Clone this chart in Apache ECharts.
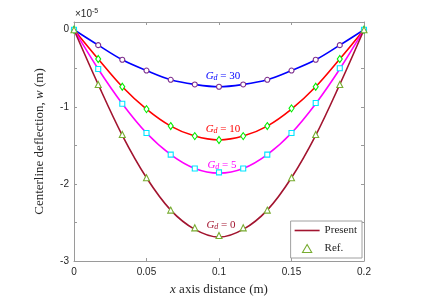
<!DOCTYPE html>
<html>
<head>
<meta charset="utf-8">
<script src="https://cdn.jsdelivr.net/npm/echarts@6/dist/echarts.min.js"></script>
<style>html,body{margin:0;padding:0;background:#fff;}#c{width:425px;height:305px;}</style>
</head>
<body>
<div id="c"></div>
<script>
// x positions (m)
var xPos = [0, 0.0167, 0.0333, 0.05, 0.0667, 0.0833, 0.1, 0.1167, 0.1333, 0.15, 0.1667, 0.1833, 0.2];
// deflection values in units of 1e-5 m
var presentGd0  = [0, -0.71, -1.37, -1.92, -2.34, -2.59, -2.69, -2.59, -2.34, -1.92, -1.37, -0.71, 0];
var presentGd5  = [0, -0.51, -0.96, -1.34, -1.62, -1.80, -1.86, -1.80, -1.62, -1.34, -0.96, -0.51, 0];
var presentGd10 = [0, -0.38, -0.74, -1.03, -1.25, -1.38, -1.43, -1.38, -1.25, -1.03, -0.74, -0.38, 0];
var presentGd30 = [0, -0.20, -0.39, -0.53, -0.65, -0.71, -0.74, -0.71, -0.65, -0.53, -0.39, -0.20, 0];
var refGd0  = [0, -0.71, -1.36, -1.92, -2.34, -2.57, -2.67, -2.57, -2.34, -1.92, -1.36, -0.71, 0];
var refGd5  = [0, -0.51, -0.96, -1.34, -1.62, -1.80, -1.85, -1.80, -1.62, -1.34, -0.95, -0.50, 0];
var refGd10 = [0, -0.38, -0.74, -1.03, -1.25, -1.38, -1.43, -1.38, -1.25, -1.02, -0.74, -0.38, 0];
var refGd30 = [0, -0.20, -0.39, -0.53, -0.65, -0.71, -0.74, -0.71, -0.65, -0.53, -0.39, -0.20, 0];
var xTicks = [0, 0.05, 0.1, 0.15, 0.2];
var yTicks = [-3, -2, -1, 0];

function pts(xs, ys) { return xs.map(function (x, i) { return [x, ys[i]]; }); }

var axisCol = '#9a9a9a';
var txtCol = '#262626';
var serif = '"Liberation Serif", "DejaVu Serif", serif';
var sans = '"Liberation Sans", Arial, sans-serif';

function lineSeries(name, data, color) {
  return { name: name, type: 'line', data: data, symbol: 'none', smooth: 0.35,
    lineStyle: { color: color, width: 1.6 }, itemStyle: { color: color }, z: 2, silent: true };
}
function refSeries(name, data, sym, size, color) {
  return { name: name, type: 'scatter', data: data, symbol: sym, symbolSize: size,
    itemStyle: { color: '#fff', borderColor: color, borderWidth: 1.1, opacity: 1 }, z: 3, silent: true };
}

var chart = echarts.init(document.getElementById('c'), null, { renderer: 'canvas' });
function gdLabel(val, color, x, y) {
  return { type: 'text', x: x, y: y, style: {
    text: '{g|G}{d|d}{e| = ' + val + '}', fill: color, align: 'center', verticalAlign: 'middle',
    rich: {
      g: { fontFamily: serif, fontStyle: 'italic', fontSize: 11, fill: color, lineHeight: 14, verticalAlign: 'bottom' },
      d: { fontFamily: serif, fontStyle: 'italic', fontSize: 8, fill: color, lineHeight: 14, verticalAlign: 'bottom' },
      e: { fontFamily: serif, fontSize: 11, fill: color, lineHeight: 14, verticalAlign: 'bottom' }
    } } };
}

var option = {
  animation: false,
  backgroundColor: '#fff',
  grid: { left: 74, right: 61, top: 22, bottom: 44, containLabel: false },
  xAxis: [{
    type: 'value', min: 0, max: 0.2, interval: 0.05, position: 'bottom',
    axisLine: { show: true, onZero: false, lineStyle: { color: axisCol, width: 1 } },
    axisTick: { show: true, inside: true, length: 3, lineStyle: { color: axisCol } },
    axisLabel: { color: txtCol, fontFamily: sans, fontSize: 10, margin: 6,
      formatter: function (v) { for (var i = 0; i < xTicks.length; i++) if (Math.abs(v - xTicks[i]) < 1e-9) return String(xTicks[i]); return ''; } },
    splitLine: { show: false },
    name: '{i|x} axis distance (m)', nameLocation: 'middle', nameGap: 22,
    nameTextStyle: { color: txtCol, fontFamily: serif, fontSize: 13,
      rich: { i: { fontFamily: serif, fontStyle: 'italic', fontSize: 13, color: txtCol } } }
  }, {
    type: 'value', min: 0, max: 0.2, interval: 0.05, position: 'top',
    axisLine: { show: true, onZero: false, lineStyle: { color: axisCol, width: 1 } },
    axisTick: { show: true, inside: true, length: 3, lineStyle: { color: axisCol } },
    axisLabel: { show: false }, splitLine: { show: false }
  }],
  yAxis: [{
    type: 'value', min: -3, max: 0.1, interval: 0.5, position: 'left',
    axisLine: { show: true, onZero: false, lineStyle: { color: axisCol, width: 1 } },
    axisTick: { show: true, inside: true, length: 3, lineStyle: { color: axisCol } },
    axisLabel: { color: txtCol, fontFamily: sans, fontSize: 10, margin: 5,
      formatter: function (v) { for (var i = 0; i < yTicks.length; i++) if (Math.abs(v - yTicks[i]) < 1e-9) return String(yTicks[i]); return ''; } },
    splitLine: { show: false },
    name: 'Centerline deflection, {i|w} (m)', nameLocation: 'middle', nameGap: 28, nameRotate: 90,
    nameTextStyle: { color: txtCol, fontFamily: serif, fontSize: 13,
      rich: { i: { fontFamily: serif, fontStyle: 'italic', fontSize: 13, color: txtCol } } }
  }, {
    type: 'value', min: -3, max: 0.1, interval: 0.5, position: 'right',
    axisLine: { show: true, onZero: false, lineStyle: { color: axisCol, width: 1 } },
    axisTick: { show: true, inside: true, length: 3, lineStyle: { color: axisCol } },
    axisLabel: { show: false }, splitLine: { show: false }
  }],
  legend: {
    orient: 'vertical', right: 63, bottom: 47, itemWidth: 25, itemHeight: 8, itemGap: 5,
    padding: [3, 5, 3, 4], borderColor: '#a0a0a0', borderWidth: 1, backgroundColor: '#fff',
    textStyle: { fontFamily: serif, fontSize: 11, color: txtCol, lineHeight: 13 },
    data: [
      { name: 'Present', icon: 'path://M0,0H25V1.6H0Z', itemStyle: { color: '#a2142f' } },
      { name: 'Ref.', icon: 'path://M3,0L6,5.2L0,5.2Z', itemStyle: { color: '#fff', borderColor: '#77ac30', borderWidth: 1.1 } }
    ],
    selectedMode: false
  },
  series: [
    lineSeries('Gd30', pts(xPos, presentGd30), '#0000ff'),
    lineSeries('Gd10', pts(xPos, presentGd10), '#ff0000'),
    lineSeries('Gd5', pts(xPos, presentGd5), '#ff00ff'),
    lineSeries('Present', pts(xPos, presentGd0), '#a2142f'),
    refSeries('ref30', pts(xPos, refGd30), 'circle', 5, '#7e2f8e'),
    refSeries('ref10', pts(xPos, refGd10), 'diamond', [5, 7], '#00ee00'),
    refSeries('ref5', pts(xPos, refGd5), 'rect', 5, '#00e5ff'),
    refSeries('Ref.', pts(xPos, refGd0), 'triangle', 6, '#77ac30')
  ],
  graphic: [
    { type: 'text', x: 75, y: 14, style: { text: '×10{s|-5}', fill: txtCol, font: '10px ' + sans, verticalAlign: 'middle',
      rich: { s: { fontFamily: sans, fontSize: 7, fill: txtCol, verticalAlign: 'top', padding: [0, 0, 6, 0] } } } },
    gdLabel('30', '#0000ff', 223, 75),
    gdLabel('10', '#ff0000', 223, 128),
    gdLabel('5', '#ff00ff', 222, 164),
    gdLabel('0', '#a2142f', 221, 224)
  ]
};
chart.setOption(option);
</script>
</body>
</html>
